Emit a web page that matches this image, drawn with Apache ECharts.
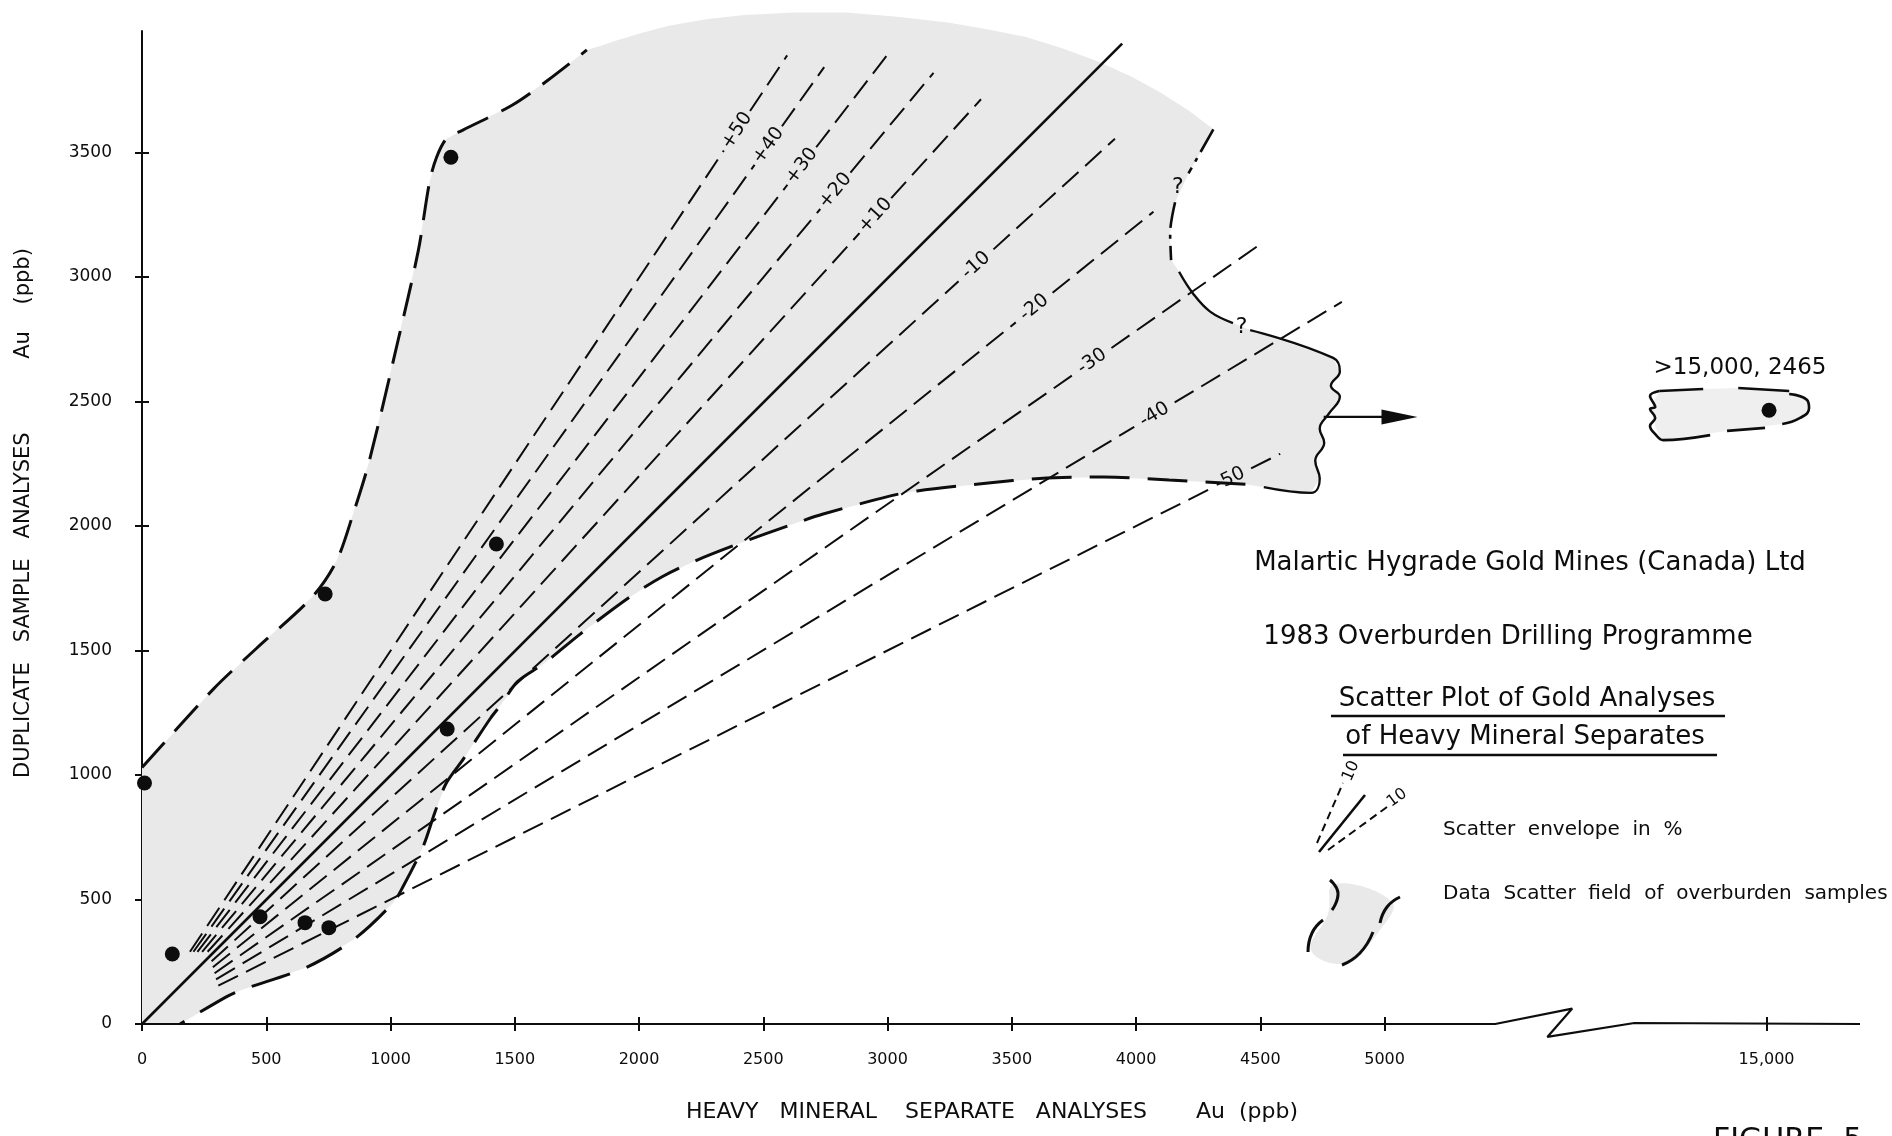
<!DOCTYPE html>
<html style="height: 100%">
<head>
    <script src="https://cdn.jsdelivr.net/npm/echarts@6.0.0/dist/echarts.min.js"></script>
</head>
<body style="height: 100%; margin: 0; background: #fff">
    <div id="main" style="width: 1892px; height: 1136px"></div>
    <script type="text/javascript">
    var chartDom = document.getElementById('main');
    var myChart = echarts.init(chartDom);

    var FONT = 'DejaVu Sans';
    var INK = '#0d0d0d';
    var FILL = '#e9e9e9';

    // x axis is linear 0-5000, then broken; the 15,000 tick sits at axis unit 6537
    var X_MAX = 6913, Y_MAX = 3988, BREAK_POS = 6537;
    function ax(x) { return x <= 5000 ? x : BREAK_POS + (x - 15000) * 0.2; }

    var xTicks = [0, 500, 1000, 1500, 2000, 2500, 3000, 3500, 4000, 4500, 5000, 15000];
    var yTicks = [0, 500, 1000, 1500, 2000, 2500, 3000, 3500];

    // samples (heavy mineral separate vs duplicate, ppb)
    var sampleX = [10, 122, 475, 656, 752, 737, 1228, 1426, 1243];
    var sampleY = [968, 281, 431, 407, 387, 1727, 1185, 1928, 3481];
    var outlier = [15050, 2465];

    // scatter envelope lines (% deviation from 1:1)
    var envLabels = ['+50', '+40', '+30', '+20', '+10', '-10', '-20', '-30', '-40', '-50'];
    var envStart = [[193, 290], [207, 290], [223, 290], [242, 290], [264, 290],
                    [280, 252], [285, 228], [292, 204], [298, 179], [307, 154]];
    var envEnd = [[2596, 3890], [2745, 3843], [3005, 3900], [3185, 3820], [3376, 3714],
                  [3915, 3555], [4070, 3262], [4486, 3122], [4828, 2900], [4580, 2290]];
    var envLabelX = [2394, 2520, 2655, 2790, 2951, 3356, 3590, 3823, 4074, 4378];
    var oneToOne = [[0, 0], [3944, 3937]];

    // outline of the data scatter field
    var upperEdge = [[0, 1030], [288, 1346], [459, 1507], [683, 1713], [782, 1858], [850, 2050],
                     [914, 2259], [1031, 2748], [1112, 3107], [1157, 3381], [1185, 3480],
                     [1225, 3555], [1291, 3590], [1489, 3690], [1633, 3790], [1790, 3912]];
    var topEdge = [[1850, 3930], [1909, 3950], [2010, 3980], [2115, 4008], [2270, 4035], [2423, 4052],
                   [2630, 4062], [2833, 4062], [3040, 4045], [3243, 4022], [3400, 3995], [3553, 3965],
                   [3700, 3920], [3850, 3865], [3980, 3805], [4100, 3740], [4210, 3670]];
    var rightDashA = [[4311, 3593], [4211, 3416]];
    var rightDashB = [[4157, 3300], [4137, 3177], [4141, 3068]];
    var rightCurve = [[4173, 3021], [4229, 2934], [4298, 2861], [4390, 2815]];
    var rightWave = [[4459, 2787], [4793, 2675], [4820, 2621], [4784, 2563], [4820, 2520],
                     [4775, 2450], [4739, 2391], [4757, 2334], [4721, 2262], [4739, 2191],
                     [4703, 2133], [4514, 2156]];
    var bottomEdge = [[4440, 2168], [4133, 2185], [3871, 2197], [3612, 2191], [3396, 2172],
                      [3119, 2141], [3008, 2120], [2741, 2048], [2632, 2012], [2390, 1925],
                      [2224, 1859], [2093, 1796], [1960, 1713], [1763, 1566], [1619, 1449],
                      [1511, 1375], [1448, 1287], [1403, 1229], [1295, 1067], [1223, 965],
                      [1178, 848], [1131, 712], [1050, 551], [1010, 486], [849, 337],
                      [656, 225], [401, 137], [341, 110], [153, 0]];
    var queryMarks = [[4168, 3362], [4425, 2797]];
    var arrow = [[4755, 2438], [5060, 2438]];

    // broken x axis line and the >15,000 field (axis units)
    var xAxisLine = [[0, 0], [5445, 0], [5755, 62], [5655, -52], [6005, 4], [6913, 0]];
    var boxFill = [[6105, 2542], [6282, 2550], [6423, 2554], [6628, 2542], [6700, 2506], [6708, 2474],
                   [6672, 2434], [6600, 2410], [6378, 2382], [6113, 2345], [6089, 2400], [6075, 2480]];
    var boxLeft = [[6105, 2542], [6068, 2522], [6089, 2478], [6068, 2470], [6089, 2434],
                   [6068, 2402], [6089, 2369], [6121, 2345], [6310, 2365]];
    var boxTop1 = [[6105, 2542], [6282, 2550]];
    var boxTop2 = [[6423, 2554], [6628, 2542]];
    var boxRight = [[6628, 2530], [6700, 2506], [6708, 2474], [6672, 2434], [6600, 2410]];
    var boxBottom = [[6531, 2394], [6378, 2382]];

    var fieldOutline = upperEdge.concat(topEdge, rightDashA, rightDashB, rightCurve,
                                        rightWave, bottomEdge, [[0, 0]]);

    function path(data, style, extra) {
        return Object.assign({
            type: 'line', data: data, symbol: 'none', showSymbol: false,
            clip: false, silent: true, animation: false, z: 3,
            lineStyle: Object.assign({ color: INK, width: 2, cap: 'butt' }, style)
        }, extra || {});
    }
    function region(points, color) {
        return {
            type: 'custom', data: [[0, 0]], clip: false, silent: true, animation: false, z: 1,
            renderItem: function (params, api) {
                return {
                    type: 'polygon',
                    shape: { points: points.map(function (p) { return api.coord(p); }) },
                    style: { fill: color }
                };
            }
        };
    }

    var series = [region(fieldOutline, FILL), region(boxFill, '#efefef')];
    series.push(path(oneToOne, { width: 2.6 }));

    // each envelope line is broken where its label sits
    var labelData = [];
    envLabels.forEach(function (name, i) {
        var s = envStart[i], e = envEnd[i];
        var t = (envLabelX[i] - s[0]) / (e[0] - s[0]);
        var ly = s[1] + t * (e[1] - s[1]);
        var ang = Math.atan2((e[1] - s[1]) * 0.249, (e[0] - s[0]) * 0.2485);
        var gap = 95;
        var gx = gap * Math.cos(ang), gy = gap * Math.sin(ang);
        series.push(path([s, [envLabelX[i] - gx, ly - gy]], { type: [22, 9], width: 2 }));
        series.push(path([[envLabelX[i] + gx, ly + gy], e], { type: [22, 9], width: 2 }));
        labelData.push({ value: [envLabelX[i], ly], name: name, label: { rotate: ang * 180 / Math.PI } });
    });

    series.push(path(upperEdge, { type: [34, 15], width: 3 }, { smooth: 0.3 }));
    series.push(path(rightDashA, { type: [26, 7, 4, 7], width: 2.6 }));
    series.push(path(rightDashB, { type: [26, 7, 4, 7], width: 2.6 }, { smooth: 0.3 }));
    series.push(path(rightCurve, { width: 2.4 }, { smooth: 0.4 }));
    series.push(path(rightWave, { width: 2.4 }, { smooth: 0.45 }));
    series.push(path(bottomEdge, { type: [40, 18], width: 3 }, { smooth: 0.3 }));

    series.push(path(xAxisLine, { width: 2.2 }));
    series.push(path(boxLeft, { width: 2.6 }, { smooth: 0.4 }));
    series.push(path(boxTop1, { width: 2.6 }));
    series.push(path(boxTop2, { width: 2.6 }));
    series.push(path(boxRight, { width: 2.6 }, { smooth: 0.5 }));
    series.push(path(boxBottom, { width: 2.6 }));

    series.push(path([
        { value: arrow[0] },
        { value: arrow[1], symbol: 'triangle', symbolSize: [15, 36], symbolRotate: -90 }
    ], { width: 2.2 }, { showSymbol: true, itemStyle: { color: INK, opacity: 1 } }));

    series.push({
        type: 'scatter', symbolSize: 0, silent: true, animation: false, z: 5,
        itemStyle: { opacity: 1 },
        data: labelData,
        label: { show: true, position: 'inside', formatter: '{b}', color: INK, fontFamily: FONT, fontSize: 19 }
    });
    series.push({
        type: 'scatter', symbolSize: 0, silent: true, animation: false, z: 5,
        itemStyle: { opacity: 1 },
        data: queryMarks,
        label: { show: true, position: 'inside', formatter: '?', color: INK, fontFamily: FONT, fontSize: 22 }
    });

    series.push({
        type: 'scatter', symbolSize: 15, silent: true, animation: false, z: 6, clip: false,
        itemStyle: { color: INK, opacity: 1 },
        data: sampleX.map(function (x, i) { return [x, sampleY[i]]; }).concat([[ax(outlier[0]), outlier[1]]])
    });

    var xTickPos = xTicks.map(ax);
    var tickStyle = { color: INK, width: 2 };

    function text(x, y, str, size, align, rot) {
        return {
            type: 'text', x: x, y: y, rotation: rot || 0,
            style: { text: str, fill: INK, font: size + 'px "DejaVu Sans"',
                     textAlign: align || 'center', textVerticalAlign: 'middle' }
        };
    }
    function stroke(points, width) {
        return { type: 'polyline', shape: { points: points, smooth: 0.5 },
                 style: { stroke: INK, lineWidth: width, fill: null } };
    }

    var option = {
        backgroundColor: '#ffffff',
        animation: false,
        grid: { left: 142, right: 32, top: 31, bottom: 112 },
        xAxis: [{
            type: 'value', min: 0, max: X_MAX,
            axisLine: { show: false }, splitLine: { show: false },
            axisTick: { show: true, customValues: xTickPos, length: 7, lineStyle: tickStyle },
            axisLabel: {
                customValues: xTickPos, margin: 20, color: INK, fontFamily: FONT, fontSize: 16,
                formatter: function (v) { return v === BREAK_POS ? '15,000' : String(v); }
            }
        }, {
            type: 'value', min: 0, max: X_MAX, position: 'bottom',
            axisLine: { show: false }, splitLine: { show: false }, axisLabel: { show: false },
            axisTick: { show: true, inside: true, customValues: xTickPos, length: 7, lineStyle: tickStyle }
        }],
        yAxis: [{
            type: 'value', min: 0, max: Y_MAX,
            axisLine: { show: true, lineStyle: { color: INK, width: 2 } }, splitLine: { show: false },
            axisTick: { show: true, customValues: yTicks, length: 7, lineStyle: tickStyle },
            axisLabel: { customValues: yTicks, margin: 30, color: INK, fontFamily: FONT, fontSize: 17,
                         formatter: function (v) { return String(v); } }
        }, {
            type: 'value', min: 0, max: Y_MAX, position: 'left',
            axisLine: { show: false }, splitLine: { show: false }, axisLabel: { show: false },
            axisTick: { show: true, inside: true, customValues: yTicks, length: 7, lineStyle: tickStyle }
        }],
        series: series,
        graphic: [
            text(24, 513, 'DUPLICATE   SAMPLE   ANALYSES           Au    (ppb)', 21, 'center', Math.PI / 2),
            text(992, 1112, 'HEAVY   MINERAL    SEPARATE   ANALYSES       Au  (ppb)', 22),
            text(1740, 368, '>15,000, 2465', 23),
            text(1530, 563, 'Malartic Hygrade Gold Mines (Canada) Ltd', 26),
            text(1508, 637, '1983 Overburden Drilling Programme', 26),
            text(1527, 699, 'Scatter Plot of Gold Analyses', 26),
            { type: 'line', shape: { x1: 1331, y1: 716, x2: 1725, y2: 716 }, style: { stroke: INK, lineWidth: 2.5 } },
            text(1525, 737, 'of Heavy Mineral Separates', 26),
            { type: 'line', shape: { x1: 1343, y1: 755, x2: 1717, y2: 755 }, style: { stroke: INK, lineWidth: 2.5 } },

            // legend: envelope fan
            { type: 'line', shape: { x1: 1317, y1: 843, x2: 1343, y2: 783 }, style: { stroke: INK, lineWidth: 2, lineDash: [8, 5] } },
            { type: 'line', shape: { x1: 1319, y1: 852, x2: 1365, y2: 795 }, style: { stroke: INK, lineWidth: 2.6 } },
            { type: 'line', shape: { x1: 1328, y1: 850, x2: 1387, y2: 807 }, style: { stroke: INK, lineWidth: 2, lineDash: [8, 5] } },
            text(1351, 771, '10', 16, 'center', 66 * Math.PI / 180),
            text(1397, 798, '10', 16, 'center', 36 * Math.PI / 180),
            text(1443, 830, 'Scatter  envelope  in  %', 20, 'left'),

            // legend: scatter field blob
            { type: 'polygon', shape: { points: [[1334, 884], [1392, 902], [1380, 930], [1345, 963], [1311, 950], [1328, 914]], smooth: 0.4 },
              style: { fill: FILL } },
            stroke([[1330, 880], [1338, 893], [1332, 910]], 3),
            stroke([[1323, 920], [1312, 933], [1308, 952]], 3),
            stroke([[1400, 897], [1387, 907], [1380, 923]], 3),
            stroke([[1373, 932], [1360, 953], [1342, 965]], 3),
            text(1443, 894, 'Data  Scatter  field  of  overburden  samples', 20, 'left'),

            text(1713, 1141, 'FIGURE  5', 30, 'left')
        ]
    };

    myChart.setOption(option);
    </script>
</body>
</html>
